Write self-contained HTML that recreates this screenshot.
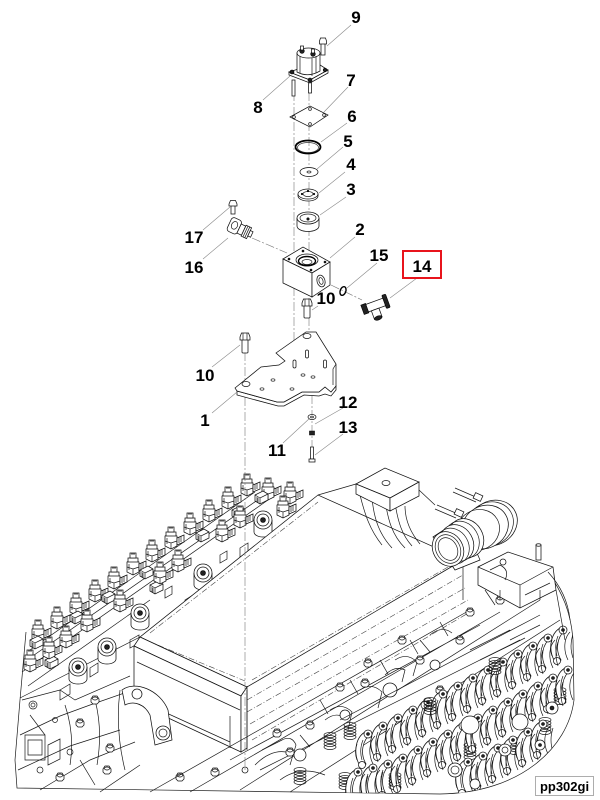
<!DOCTYPE html>
<html><head><meta charset="utf-8"><style>
html,body{margin:0;padding:0;background:#fff}
svg{display:block}
.e{fill:none;stroke:#1a1a1a;stroke-width:0.7}
.p{fill:#fff;stroke:#111;stroke-width:0.75}
.k{fill:#222;stroke:#000;stroke-width:0.6}
.l{fill:none;stroke:#8a8a8a;stroke-width:0.6}
.c{fill:none;stroke:#777;stroke-width:0.6;stroke-dasharray:9 2 2 2}
.d{fill:none;stroke:#444;stroke-width:0.6;stroke-dasharray:6 2 1 2}
text{font-family:"Liberation Sans",Arial,sans-serif;font-weight:bold;font-size:17px;text-anchor:middle;fill:#000}
</style></head><body>
<svg width="600" height="800" viewBox="0 0 600 800" xmlns="http://www.w3.org/2000/svg">
<defs>
<clipPath id="eng"><path d="M26,632 L20,700 L15,760 L17,788 L440,794 C520,793 568,748 574,700 L573,640 C571,612 562,592 548,572 L300,560 L20,620 Z"/></clipPath>
<symbol id="inj" overflow="visible">
<g class="p">
<path d="M-6,9 l6,-2 l6,2 v10 l-6,3 l-6,-3z"/>
<path d="M6,11 l7,-3 v7 l-7,3z"/>
<path d="M-5,5 h10 v4 h-10z"/>
<path d="M-3,0 h6 v5 h-6z"/>
</g>
<path class="e" d="M-6,14 l6,2 l6,-2 M0,16 v6 M-2,1 h4 M8,10 v6 M10,9 v6 M-4,11 v6"/>
</symbol>
<symbol id="cn" overflow="visible">
<path class="p" d="M0,0 l8,-4 l5,3 v6 l-8,4 l-5,-3z"/>
<path class="e" d="M0,0 l5,3 l8,-4 M5,3 v6 M2,2 v5 M3,3 v5"/>
</symbol>
<symbol id="boss" overflow="visible">
<path class="p" d="M-9,0 v12 a9,5 0 0 0 18,0 v-12"/>
<g class="p"><circle r="9"/><circle r="6"/></g><circle r="2.5" class="k"/>
</symbol>
<symbol id="hx" overflow="visible"><g class="p"><path d="M-4,-1 l2,-3 h4 l2,3 v3 l-2,2 h-4 l-2,-2z"/><ellipse rx="2.5" ry="1.5" cy="-1.5"/></g></symbol>
<symbol id="rk" overflow="visible">
<g class="p">
<path d="M0,0 c-10,6 -12,22 -5,34 l6,-2 c-6,-10 -4,-24 5,-30z"/>
<circle cx="3" cy="2" r="4"/>
<circle cx="-3" cy="33" r="3.5"/>
</g>
<path class="e" d="M10,4 c-6,6 -7,18 -2,28 M13,6 q-4,12 0,24 M-8,12 q-3,8 0,16 M-2,8 q-4,10 -1,20"/>
<circle cx="3" cy="2" r="1.5" class="k"/>
</symbol>
<symbol id="sp" overflow="visible"><g class="e"><ellipse rx="6" ry="2.5"/><ellipse cy="3" rx="6" ry="2.5"/><ellipse cy="6" rx="6" ry="2.5"/><ellipse cy="9" rx="6" ry="2.5"/><ellipse cy="12" rx="6" ry="2.5"/></g></symbol>
</defs>

<!-- ================= ENGINE ================= -->
<path class="e" d="M26,632 L20,700 L15,760 L17,788 L440,794 C520,793 568,748 574,700 L573,640 C571,612 562,592 548,572"/>
<path class="e" d="M22,672 L268,500 M20,698 L140,637 M28,686 L150,600 M30,650 L255,492 M24,662 L262,497"/>

<!-- injector bank back row -->
<use href="#inj" x="38" y="620"/><use href="#inj" x="57" y="607"/><use href="#inj" x="76" y="593"/>
<use href="#inj" x="95" y="580"/><use href="#inj" x="114" y="567"/><use href="#inj" x="133" y="553"/>
<use href="#inj" x="152" y="540"/><use href="#inj" x="171" y="527"/><use href="#inj" x="190" y="513"/>
<use href="#inj" x="209" y="500"/><use href="#inj" x="228" y="487"/><use href="#inj" x="247" y="474"/>
<use href="#inj" x="268" y="478"/><use href="#inj" x="290" y="482"/>
<!-- connectors between -->
<use href="#cn" x="30" y="640"/><use href="#cn" x="70" y="615"/><use href="#cn" x="102" y="595"/>
<use href="#cn" x="140" y="570"/><use href="#cn" x="196" y="533"/><use href="#cn" x="232" y="510"/>
<use href="#cn" x="255" y="495"/><use href="#cn" x="45" y="660"/><use href="#cn" x="150" y="585"/>
<!-- front row -->
<use href="#inj" x="30" y="650"/><use href="#inj" x="49" y="637"/><use href="#inj" x="66" y="626"/>
<use href="#inj" x="87" y="610"/><use href="#inj" x="120" y="590"/><use href="#inj" x="160" y="562"/>
<use href="#inj" x="178" y="550"/><use href="#inj" x="222" y="520"/><use href="#inj" x="240" y="506"/>
<use href="#inj" x="283" y="496"/>
<use href="#boss" x="78" y="667"/><use href="#boss" x="107" y="647"/><use href="#boss" x="140" y="613"/>
<use href="#boss" x="203" y="573"/><use href="#boss" x="263" y="520"/>
<path class="e" d="M60,690 l10,-6 v10 l-10,6z M90,668 l8,-5 v9 l-8,5z M185,600 l8,-5 v9 l-8,5z M240,548 l8,-5 v9 l-8,5z M130,640 l9,-5 v8 l-9,5z M165,590 l7,-4 v8 l-7,4z M220,555 l7,-4 v8 l-7,4z"/>

<!-- lower-left region -->
<g class="e">
<path d="M22,700 L60,690 L75,700 L130,676 M20,735 L60,716 L90,705 L133,690 M18,770 L70,746 L120,730 M40,790 L90,760 L135,742 M100,792 L140,765"/>
<path d="M25,735 h20 v25 h-20z M28,740 h14 v15 h-14z M48,745 l12,-6 v20 l-12,6z"/>
<path d="M65,705 q10,30 5,60 M95,700 q8,30 2,65 M120,690 q-5,40 5,80 M30,715 l15,20 M80,760 l15,25"/>
<circle cx="33" cy="705" r="4"/><circle cx="33" cy="705" r="2"/>
<circle cx="70" cy="752" r="3"/><circle cx="55" cy="720" r="2.5"/><circle cx="40" cy="770" r="3"/>
</g>
<use href="#hx" x="80" y="723"/><use href="#hx" x="110" y="748"/><use href="#hx" x="107" y="770"/>
<use href="#hx" x="95" y="700"/><use href="#hx" x="60" y="777"/><use href="#hx" x="137" y="695"/>
<use href="#hx" x="163" y="707"/><use href="#hx" x="163" y="733"/><use href="#hx" x="180" y="777"/><use href="#hx" x="215" y="772"/>

<!-- intake cover box -->
<path class="p" d="M140,637 L318,495 L463,560 L247,687 Z"/>
<path class="d" d="M148,641 L245,681 M252,680 L455,563 M150,633 L318,502"/>
<path class="p" d="M140,637 L134,646 L241,696 L247,687 Z"/>
<path class="p" d="M134,646 L134,702 L241,752 L241,696 Z"/>
<path class="p" d="M241,696 L247,687 L247,748 L241,752 Z"/>
<path class="e" d="M137,662 L240,710 M138,700 L230,742 M230,716 L230,748"/>
<path class="p" d="M122,690 C135,680 160,690 168,710 L172,740 L155,745 L150,715 C145,705 135,700 125,705 Z"/>
<circle class="p" cx="163" cy="733" r="7"/><circle class="e" cx="163" cy="733" r="4"/>
<circle class="p" cx="137" cy="694" r="5"/>
<path class="d" d="M247,700 L463,575 M247,712 L465,588 M250,724 L468,600 M252,740 L470,612"/>
<path class="e" d="M247,690 L247,750 M463,560 L463,600"/>

<!-- head area below box right -->
<g class="e">
<path d="M150,792 L470,610 M190,792 L500,612 M240,790 L540,600 M290,792 L560,620 M230,760 L480,625 M260,770 L520,640"/>
<path d="M262,750 l20,-10 q10,-5 14,5 l-6,20 M330,710 q12,-8 22,2 l-4,18 M360,690 q12,-8 22,2 l-4,16 M395,660 q12,-8 22,2 l-4,14 M300,735 l10,12 M420,640 l10,12"/>
<path d="M255,765 q20,-20 40,-10 M280,780 q20,-15 45,-5 M320,700 l8,14 M350,680 l8,14 M380,660 l8,14 M410,640 l8,14 M440,622 l8,14"/>
<path d="M385,675 q10,-10 20,-5 l-3,12 M325,720 q10,-8 18,-3 M430,635 q12,-10 22,-2"/>
</g>
<use href="#hx" x="277" y="733"/><use href="#hx" x="340" y="687"/><use href="#hx" x="368" y="663"/>
<use href="#hx" x="402" y="640"/><use href="#hx" x="365" y="683"/><use href="#hx" x="290" y="752"/>
<use href="#hx" x="420" y="660"/><use href="#hx" x="470" y="612"/><use href="#hx" x="440" y="690"/>
<use href="#hx" x="310" y="725"/><use href="#hx" x="500" y="600"/><use href="#hx" x="460" y="640"/>
<circle class="p" cx="300" cy="755" r="6"/><circle class="p" cx="345" cy="715" r="5"/>
<circle class="p" cx="390" cy="690" r="7"/><circle class="p" cx="435" cy="665" r="5"/>
<circle class="p" cx="245" cy="770" r="3"/>

<!-- rocker area (clipped) -->
<g clip-path="url(#eng)">
<use href="#rk" x="560" y="628"/><use href="#rk" x="545" y="636"/><use href="#rk" x="530" y="644"/>
<use href="#rk" x="515" y="652"/><use href="#rk" x="500" y="660"/><use href="#rk" x="485" y="668"/>
<use href="#rk" x="470" y="676"/><use href="#rk" x="455" y="684"/><use href="#rk" x="440" y="692"/>
<use href="#rk" x="425" y="700"/><use href="#rk" x="410" y="708"/><use href="#rk" x="395" y="716"/>
<use href="#rk" x="380" y="724"/><use href="#rk" x="365" y="732"/>
<use href="#sp" x="330" y="735"/><use href="#sp" x="350" y="725"/><use href="#sp" x="430" y="700"/>
<use href="#sp" x="495" y="660"/><use href="#sp" x="300" y="770"/><use href="#sp" x="545" y="720"/>
<use href="#sp" x="515" y="740"/><use href="#sp" x="395" y="775"/><use href="#sp" x="470" y="745"/>
<use href="#sp" x="560" y="690"/><use href="#sp" x="345" y="775"/>
<use href="#rk" x="565" y="668"/><use href="#rk" x="550" y="676"/><use href="#rk" x="535" y="684"/>
<use href="#rk" x="520" y="692"/><use href="#rk" x="505" y="700"/><use href="#rk" x="490" y="708"/>
<use href="#rk" x="475" y="716"/><use href="#rk" x="460" y="724"/><use href="#rk" x="445" y="732"/>
<use href="#rk" x="430" y="740"/><use href="#rk" x="415" y="748"/><use href="#rk" x="400" y="756"/>
<use href="#rk" x="385" y="762"/><use href="#rk" x="370" y="766"/><use href="#rk" x="355" y="770"/>
<use href="#rk" x="540" y="722"/><use href="#rk" x="525" y="730"/><use href="#rk" x="510" y="738"/>
<use href="#rk" x="495" y="746"/><use href="#rk" x="480" y="754"/><use href="#rk" x="465" y="760"/>
<circle class="p" cx="470" cy="725" r="9"/><circle class="p" cx="520" cy="722" r="8"/>
<circle class="p" cx="505" cy="750" r="6"/><circle class="e" cx="505" cy="750" r="3"/>
<circle class="p" cx="455" cy="770" r="7"/><circle class="e" cx="455" cy="770" r="4"/>
<circle class="p" cx="552" cy="708" r="6"/><circle class="k" cx="552" cy="708" r="2"/>
<circle class="p" cx="475" cy="784" r="5"/><circle class="e" cx="425" cy="705" r="4"/>
<circle class="p" cx="540" cy="745" r="5"/><circle class="k" cx="540" cy="745" r="1.5"/>
</g>
<g class="e">
<path d="M470,650 l40,-20 M480,660 l45,-22 M510,640 l30,-15 M340,720 l200,-105"/>
</g>

<!-- right top components -->
<path class="e" d="M372,498 C374,520 380,535 392,548 M405,506 C405,520 410,532 420,544 M385,500 C388,520 392,535 405,548 M360,495 C365,515 370,530 382,545 M395,503 C398,522 402,535 412,546"/>
<path class="p" d="M356,484 L385,468 L419,482 L390,498 Z"/>
<path class="p" d="M356,484 V494 L390,511 V498 Z"/>
<path class="p" d="M390,511 L419,496 V482 L390,498 Z"/>
<ellipse class="p" cx="386" cy="483" rx="4" ry="2.5"/>
<path class="e" d="M318,495 L356,484 M419,490 L435,505"/>
<!-- throttle body -->
<path class="e" d="M455,488 L478,498 M453,492 L476,502 M437,505 L458,514 M435,509 L456,518"/>
<rect class="p" x="474" y="494" width="8" height="6" transform="rotate(25 478 497)"/>
<rect class="p" x="455" y="510" width="8" height="6" transform="rotate(25 459 513)"/>
<ellipse class="p" cx="493" cy="523" rx="25" ry="22" transform="rotate(-30 493 523)"/>
<ellipse class="e" cx="490" cy="524" rx="24" ry="21.5" transform="rotate(-30 490 524)"/>
<ellipse class="p" cx="485" cy="527" rx="24" ry="21" transform="rotate(-30 485 527)"/>
<ellipse class="e" cx="478" cy="530" rx="22" ry="20" transform="rotate(-30 478 530)"/>
<path class="p" d="M433,537 L462,518 L480,560 L455,570 Z"/>
<ellipse class="p" cx="466" cy="538" rx="17" ry="20" transform="rotate(-30 466 538)"/>
<ellipse class="e" cx="462" cy="540" rx="16.5" ry="19.5" transform="rotate(-30 462 540)"/>
<ellipse class="p" cx="457" cy="543" rx="16" ry="19" transform="rotate(-30 457 543)"/>
<ellipse class="e" cx="453" cy="546" rx="15.5" ry="18.5" transform="rotate(-30 453 546)"/>
<ellipse class="p" cx="448" cy="549" rx="15" ry="18" transform="rotate(-30 448 549)"/>
<ellipse class="e" cx="448" cy="549" rx="12" ry="15" transform="rotate(-30 448 549)"/>
<ellipse class="e" cx="448" cy="549" rx="9" ry="12" transform="rotate(-30 448 549)"/>
<!-- right block -->
<path class="p" d="M478,567 L508,552 L553,567 L556,590 L520,608 L478,585 Z"/>
<path class="e" d="M478,567 L520,585 L553,567 M520,585 V608 M490,570 l10,-5 q10,5 5,15 M500,600 v-10 M540,590 v10 M525,595 l25,-12 M485,590 l10,15"/>
<circle class="p" cx="503" cy="562" r="3"/>
<rect class="p" x="536" y="545" width="5" height="15"/><ellipse class="p" cx="538.5" cy="545" rx="2.5" ry="1.2"/>
<path class="e" d="M548,572 C560,585 568,600 570,620 M556,590 L565,640"/>

<path class="c" d="M245,352 V770"/>

<!-- ================= PARTS ================= -->
<path class="c" d="M294,92 V360"/>
<path class="c" d="M309,92 V336"/>
<path class="c" d="M312,395 V448"/>
<path class="c" d="M252,238 L287,253"/>
<path class="c" d="M331,285 L362,300"/>

<rect class="p" x="321" y="43" width="4" height="12"/>
<path class="p" d="M319.5,41 l1,-3 h5 l1,3 v3 h-7z"/>
<rect class="p" x="292" y="80" width="3" height="16"/>
<rect class="p" x="308.5" y="80" width="3" height="13"/>
<path class="p" d="M289,72 L317,63 L328,70 L310,80 Z"/>
<path class="p" d="M289,72 V75 L310,83 V80 Z"/>
<path class="p" d="M310,80 V83 L328,73 V70 Z"/>
<path class="p" d="M297,53 V72 Q308,78 320,71 V53 Z"/>
<ellipse class="p" cx="308.5" cy="53" rx="11.5" ry="5"/>
<path class="e" d="M300,56 V73 M316,56 V73 M312,58 V76"/>
<circle class="k" cx="302" cy="51" r="2.3"/><rect class="p" x="300.5" y="46" width="3" height="4"/>
<circle class="k" cx="313" cy="54" r="2.3"/><rect class="p" x="311.5" y="49" width="3" height="4"/>
<circle class="k" cx="292" cy="72" r="2"/><circle class="k" cx="310" cy="80" r="2"/><circle class="k" cx="325" cy="70" r="1.8"/>

<path class="p" d="M290,117 L310,106 L328,115 L310,127 Z"/>
<g class="e"><circle cx="294" cy="117" r="1.4"/><circle cx="310" cy="109" r="1.4"/><circle cx="324" cy="115" r="1.4"/><circle cx="310" cy="124" r="1.4"/></g>
<ellipse cx="308" cy="147" rx="12.5" ry="6.5" fill="none" stroke="#000" stroke-width="1.8"/>
<ellipse cx="308" cy="147.5" rx="10.5" ry="5" fill="none" stroke="#333" stroke-width="0.7"/>
<ellipse class="p" cx="309" cy="172" rx="9" ry="4.5"/>
<ellipse class="e" cx="309" cy="172" rx="2" ry="1"/>
<path class="p" d="M298,194 v2 a10,5 0 0 0 20,0 v-2"/>
<ellipse class="p" cx="308" cy="194" rx="10" ry="5"/>
<ellipse class="e" cx="308" cy="194" rx="5" ry="2.5"/>
<g class="k"><circle cx="302" cy="194" r="0.8"/><circle cx="314" cy="194" r="0.8"/><circle cx="308" cy="191" r="0.8"/></g>
<path class="p" d="M297,218 v8 a11,5.5 0 0 0 22,0 v-8"/>
<ellipse class="p" cx="308" cy="218" rx="11" ry="6"/>
<ellipse class="e" cx="308" cy="218" rx="8" ry="4"/>
<circle class="k" cx="308" cy="219" r="1.2"/>

<rect class="p" x="231" y="205" width="4" height="9"/>
<path class="p" d="M229,204 l1.5,-3.5 h5 l1.5,3.5 v2 h-8z"/>
<!-- fitting 16 (elbow) -->
<g transform="rotate(25 240 229)">
<rect class="p" x="228" y="221" width="11" height="15" rx="3"/>
<ellipse class="e" cx="233.5" cy="228" rx="3" ry="4"/>
<rect class="p" x="239" y="224" width="5" height="10"/>
<rect class="p" x="244" y="223" width="6" height="12"/>
<rect class="p" x="250" y="226" width="3" height="6"/>
<path class="e" d="M246,223 v12 M248,223 v12"/>
</g>

<path class="p" d="M283,259 L303,247 L330,262 L312,273 Z"/>
<path class="p" d="M283,259 L312,273 L312,297 L283,283 Z"/>
<path class="p" d="M312,273 L330,262 L330,285 L312,297 Z"/>
<ellipse class="p" cx="307" cy="260" rx="11" ry="6"/>
<ellipse cx="307" cy="261" rx="8.5" ry="4.5" fill="none" stroke="#000" stroke-width="1.4"/>
<ellipse class="e" cx="307" cy="262" rx="5" ry="2.5"/>
<g class="k"><circle cx="289" cy="259" r="1"/><circle cx="303" cy="251" r="1"/><circle cx="325" cy="262" r="1"/><circle cx="311" cy="270" r="1"/></g>
<ellipse class="p" cx="321" cy="281" rx="4" ry="6" transform="rotate(-15 321 281)"/>
<ellipse class="e" cx="321" cy="281" rx="2" ry="3.5" transform="rotate(-15 321 281)"/>
<rect class="p" x="304" y="304" width="6" height="14" rx="1"/>
<path class="p" d="M302,303 l1.5,-4 h7 l1.5,4 v3 h-10z"/>
<path class="e" d="M305,299 v7 M309,299 v7"/>
<ellipse cx="343" cy="291" rx="2.8" ry="4.5" transform="rotate(20 343 291)" fill="none" stroke="#000" stroke-width="1.4"/>
<g transform="rotate(-20 376 306)">
<rect class="p" x="366" y="301" width="20" height="8"/>
<rect class="k" x="362" y="300" width="5" height="10"/>
<rect class="k" x="385" y="298" width="4" height="14" rx="1"/>
<rect class="p" x="370" y="309" width="8" height="9"/>
<ellipse class="k" cx="374" cy="318" rx="4" ry="2"/>
</g>

<path class="p" d="M237,391 L237,395 L278,406 L284,406 L304,395 L319,396 L325,394 L331,396 L336,390 L336,386 L331,392 L325,387 L319,392 L302,392 L284,402 L277,402 Z"/>
<path class="p" d="M235,388 L261,367 L279,365 L285,361 L276,353 L306,332 L316,332 L336,364 L336,386 L331,392 L325,387 L319,392 L302,392 L284,402 L277,402 L237,391 Z"/>
<path class="e" d="M336,364 L333,369 L333,385"/>
<ellipse class="p" cx="307" cy="336" rx="4" ry="2.5"/>
<ellipse class="p" cx="246" cy="384" rx="4" ry="2.5"/>
<g class="e"><ellipse cx="262" cy="389" rx="2" ry="1.2"/><ellipse cx="273" cy="380" rx="2" ry="1.2"/>
<ellipse cx="292" cy="389" rx="2" ry="1.2"/><ellipse cx="303" cy="375" rx="2" ry="1.2"/><ellipse cx="313" cy="377" rx="2" ry="1.2"/></g>
<rect class="p" x="293" y="360" width="3" height="8" rx="1.5"/>
<rect class="p" x="305.5" y="350" width="3" height="8" rx="1.5"/>
<rect class="p" x="323.5" y="360" width="3" height="8" rx="1.5"/>
<rect class="p" x="242" y="338" width="6" height="15" rx="1"/>
<path class="p" d="M240,337 l1.5,-4 h7 l1.5,4 v3 h-10z"/>
<path class="e" d="M243,333 v7 M247,333 v7"/>
<ellipse class="p" cx="312" cy="417" rx="4" ry="2.5"/><ellipse class="e" cx="312" cy="417" rx="1.5" ry="0.9"/>
<path class="k" d="M309.5,431 h5 v4 h-5z"/>
<rect class="p" x="310.5" y="447" width="3" height="12"/>
<path class="p" d="M309,459 h6 v3 h-6z"/>

<g class="l">
<path d="M351,25 L327,46"/>
<path d="M263,100 L290,76"/>
<path d="M348,87 L324,112"/>
<path d="M347,123 L321,142"/>
<path d="M343,147 L317,169"/>
<path d="M345,172 L319,193"/>
<path d="M346,197 L320,215"/>
<path d="M355,237 L330,258"/>
<path d="M203,230 L230,207"/>
<path d="M203,259 L228,238"/>
<path d="M377,263 L347,288"/>
<path d="M417,278 L390,298"/>
<path d="M318,306 L312,310"/>
<path d="M212,367 L240,345"/>
<path d="M212,413 L237,392"/>
<path d="M343,408 L315,424"/>
<path d="M343,434 L315,455"/>
<path d="M283,443 L310,418"/>
</g>

<text x="356" y="23">9</text>
<text x="351" y="86">7</text>
<text x="258" y="113">8</text>
<text x="352" y="122">6</text>
<text x="348" y="147">5</text>
<text x="351" y="170">4</text>
<text x="351" y="195">3</text>
<text x="360" y="235">2</text>
<text x="194" y="243">17</text>
<text x="194" y="273">16</text>
<text x="379" y="261">15</text>
<rect x="403" y="251" width="38" height="27" fill="none" stroke="#e8141c" stroke-width="2"/>
<text x="422" y="272">14</text>
<text x="326" y="304">10</text>
<text x="205" y="381">10</text>
<text x="205" y="426">1</text>
<text x="348" y="408">12</text>
<text x="348" y="433">13</text>
<text x="277" y="456">11</text>

<rect x="535.5" y="776.5" width="58" height="19" fill="#fff" stroke="#999" stroke-width="0.8"/>
<text x="564.5" y="791" style="font-size:13px">pp302gi</text>
</svg>
</body></html>
